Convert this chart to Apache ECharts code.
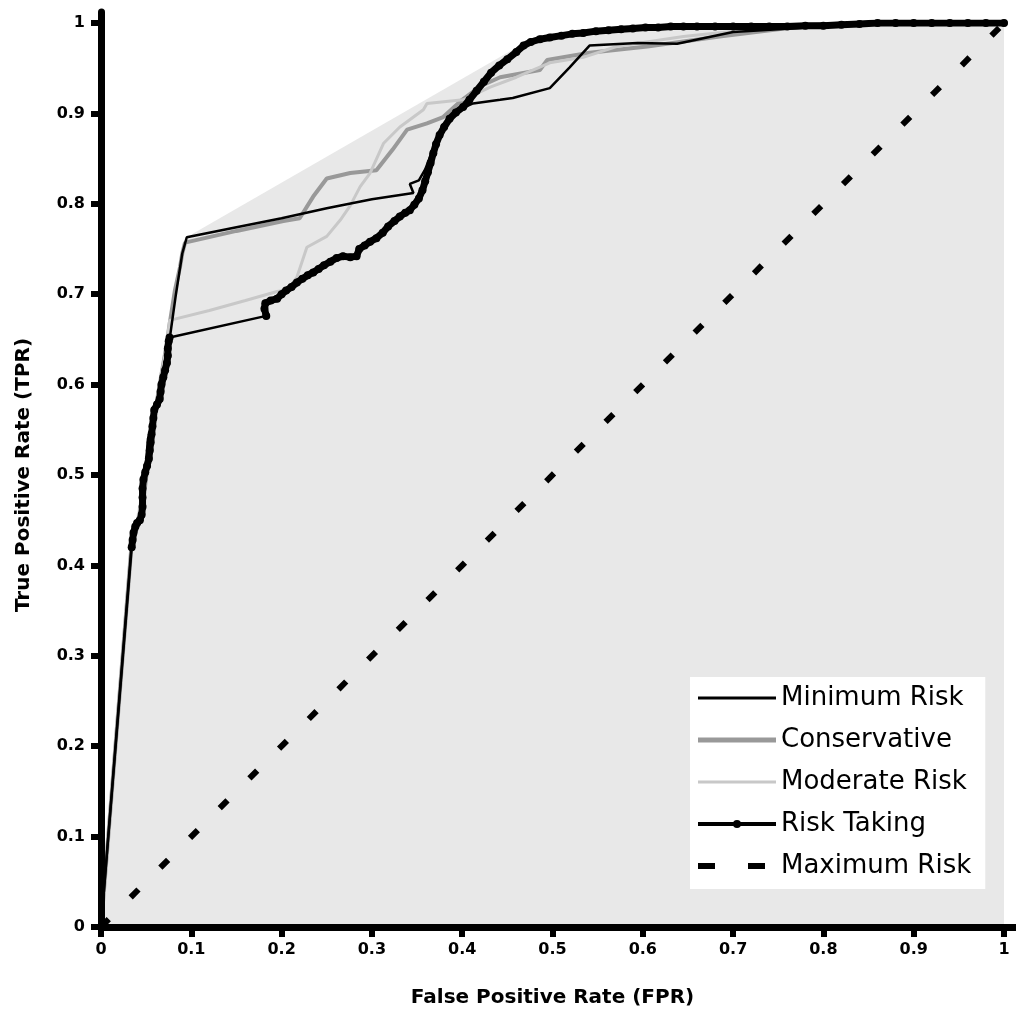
<!DOCTYPE html>
<html>
<head>
<meta charset="utf-8">
<script src="https://cdn.jsdelivr.net/npm/echarts@6.0.0/dist/echarts.min.js"></script>
<style>
html,body{margin:0;padding:0;background:#fff;}
#chart{width:1016px;height:1015px;}
</style>
</head>
<body>
<div id="chart"></div>
<script>
// ---- Data ----
const TICK_LABELS = ['0','0.1','0.2','0.3','0.4','0.5','0.6','0.7','0.8','0.9','1'];
const SERIES_NAMES = ['Minimum Risk','Conservative','Moderate Risk','Risk Taking','Maximum Risk'];

// Upper envelope (convex hull) of the curves — shaded region
const HULL = [[0,0],[0.034,0.425],[0.093,0.762],[0.476,0.982],[0.534,0.990],[0.589,0.994],[0.645,0.996],[0.866,1.0],[1,1]];

const MIN_RISK = [[0,0],[0.034,0.425],[0.045,0.455],[0.052,0.54],[0.062,0.58],[0.070,0.62],[0.076,0.650],
  [0.083,0.700],[0.090,0.745],[0.095,0.763],[0.150,0.774],[0.200,0.784],[0.250,0.795],[0.300,0.805],
  [0.346,0.812],[0.342,0.822],[0.352,0.826],[0.359,0.838],[0.366,0.856],[0.375,0.876],[0.386,0.893],
  [0.401,0.906],[0.412,0.911],[0.442,0.915],[0.456,0.917],[0.497,0.928],[0.519,0.951],[0.541,0.975],
  [0.594,0.978],[0.638,0.977],[0.700,0.990],[0.800,0.996],[0.900,1.0],[1,1]];

const CONSERVATIVE = [[0,0],[0.034,0.425],[0.045,0.455],[0.055,0.54],[0.065,0.60],[0.072,0.64],[0.076,0.667],
  [0.082,0.705],[0.0875,0.730],[0.090,0.745],[0.093,0.757],[0.150,0.770],[0.202,0.781],[0.220,0.784],
  [0.235,0.808],[0.250,0.828],[0.276,0.834],[0.305,0.837],[0.323,0.860],[0.339,0.882],[0.361,0.889],
  [0.379,0.896],[0.400,0.915],[0.420,0.930],[0.442,0.940],[0.486,0.948],[0.494,0.959],[0.541,0.967],
  [0.605,0.974],[0.685,0.985],[0.750,0.993],[0.785,0.998],[0.850,1.0],[1,1]];

const MODERATE = [[0,0],[0.034,0.425],[0.045,0.455],[0.055,0.54],[0.065,0.60],[0.072,0.64],[0.076,0.671],
  [0.120,0.682],[0.160,0.693],[0.195,0.703],[0.207,0.705],[0.217,0.719],[0.228,0.752],[0.250,0.764],
  [0.265,0.782],[0.276,0.798],[0.287,0.819],[0.298,0.834],[0.313,0.867],[0.331,0.885],[0.357,0.904],
  [0.361,0.911],[0.401,0.915],[0.431,0.929],[0.460,0.940],[0.497,0.956],[0.534,0.962],[0.571,0.974],
  [0.645,0.985],[0.682,0.989],[0.750,0.995],[0.850,1.0],[1,1]];

const RISK_TAKING = [[0,0],[0.034,0.420],[0.035,0.428],[0.036,0.436],[0.038,0.443],[0.040,0.447],[0.043,0.450],
  [0.045,0.456],[0.046,0.465],[0.046,0.475],[0.046,0.485],[0.047,0.495],[0.049,0.503],[0.051,0.510],
  [0.053,0.518],[0.054,0.527],[0.055,0.536],[0.056,0.545],[0.057,0.554],[0.058,0.563],[0.059,0.572],
  [0.062,0.578],[0.065,0.584],[0.066,0.592],[0.067,0.600],[0.069,0.608],[0.071,0.616],[0.073,0.624],
  [0.074,0.632],[0.074,0.640],[0.075,0.648],[0.076,0.652],
  [0.183,0.676],[0.181,0.684],[0.182,0.690],[0.188,0.693],[0.195,0.695],[0.200,0.700],[0.205,0.704],
  [0.211,0.708],[0.217,0.713],[0.223,0.717],[0.229,0.721],[0.235,0.724],[0.241,0.728],[0.247,0.732],
  [0.254,0.736],[0.261,0.740],[0.268,0.742],[0.276,0.741],[0.283,0.742],[0.286,0.750],[0.292,0.754],
  [0.298,0.758],[0.305,0.762],[0.312,0.768],[0.318,0.775],[0.325,0.781],[0.331,0.786],[0.337,0.790],
  [0.342,0.793],[0.347,0.799],[0.352,0.806],[0.356,0.815],[0.359,0.825],[0.362,0.835],[0.365,0.845],
  [0.368,0.856],[0.371,0.866],[0.375,0.876],[0.380,0.885],[0.386,0.894],[0.393,0.901],[0.401,0.907],
  [0.408,0.915],[0.416,0.925],[0.424,0.935],[0.432,0.945],[0.441,0.953],[0.450,0.960],[0.460,0.968],
  [0.468,0.975],[0.476,0.979],[0.486,0.982],[0.497,0.984],[0.510,0.986],[0.522,0.988],[0.534,0.989],
  [0.548,0.991],[0.562,0.992],[0.576,0.993],[0.589,0.994],[0.603,0.995],[0.617,0.995],[0.631,0.996],
  [0.645,0.996],[0.660,0.996],[0.680,0.996],[0.700,0.996],[0.720,0.996],[0.740,0.996],[0.760,0.996],
  [0.780,0.997],[0.800,0.997],[0.820,0.998],[0.840,0.999],[0.860,1.0],[0.880,1.0],[0.900,1.0],
  [0.920,1.0],[0.940,1.0],[0.960,1.0],[0.980,1.0],[1,1]];

const MAX_RISK = [[0,0],[1,1]];

// ---- Split Risk Taking into its dense (marker-covered) runs and sparse thin connectors ----
const GAP = 0.05;
const rtDense = [], rtSparse = [];
for (let i = 0; i < RISK_TAKING.length; i++) {
  const p = RISK_TAKING[i];
  if (i > 0) {
    const q = RISK_TAKING[i - 1];
    if (Math.hypot(p[0] - q[0], p[1] - q[1]) > GAP) {
      rtDense.push(null);
      rtSparse.push(q, p, null);
    }
  }
  rtDense.push(p);
}

// ---- Chart ----
const SANS = "'DejaVu Sans', 'Liberation Sans', Arial, sans-serif";
const chart = echarts.init(document.getElementById('chart'), null, {renderer: 'canvas'});
const tickFmt = v => TICK_LABELS[Math.round(v * 10)];
const noDot = {opacity: 0};

const option = {
  animation: false,
  backgroundColor: '#ffffff',
  grid: [
    {left: 101, top: 23, width: 903, height: 904, outerBoundsMode: 'none', containLabel: false},
    {left: 101, top: 12, width: 915, height: 915, outerBoundsMode: 'none', containLabel: false}
  ],
  xAxis: [
    {
      gridIndex: 0, type: 'value', min: 0, max: 1, interval: 0.1,
      axisLine: {show: false},
      axisTick: {show: true, length: 10, lineStyle: {color: '#000', width: 6}},
      axisLabel: {margin: 15, color: '#000', fontFamily: SANS, fontWeight: 'bold', fontSize: 16, formatter: tickFmt},
      splitLine: {show: false},
      name: 'False Positive Rate (FPR)', nameLocation: 'middle', nameGap: 61,
      nameTextStyle: {color: '#000', fontFamily: SANS, fontWeight: 'bold', fontSize: 20}
    },
    {
      gridIndex: 1, type: 'value', min: 0, max: 1, z: 10,
      axisLine: {show: true, lineStyle: {color: '#000', width: 7}},
      axisTick: {show: false}, axisLabel: {show: false}, splitLine: {show: false}
    }
  ],
  yAxis: [
    {
      gridIndex: 0, type: 'value', min: 0, max: 1, interval: 0.1,
      axisLine: {show: false},
      axisTick: {show: true, length: 10, lineStyle: {color: '#000', width: 6}},
      axisLabel: {margin: 16, color: '#000', fontFamily: SANS, fontWeight: 'bold', fontSize: 16, formatter: tickFmt},
      splitLine: {show: false},
      name: 'True Positive Rate (TPR)', nameLocation: 'middle', nameGap: 67,
      nameTextStyle: {color: '#000', fontFamily: SANS, fontWeight: 'bold', fontSize: 20}
    },
    {
      gridIndex: 1, type: 'value', min: 0, max: 1, z: 10,
      axisLine: {show: true, lineStyle: {color: '#000', width: 7}},
      axisTick: {show: false}, axisLabel: {show: false}, splitLine: {show: false}
    }
  ],
  legend: {
    orient: 'vertical',
    left: 690, top: 677,
    backgroundColor: '#ffffff',
    padding: [8, 14, 10, 5],
    itemWidth: 78, itemHeight: 10, itemGap: 16,
    data: [
      {name: SERIES_NAMES[0], itemStyle: noDot, lineStyle: {color: '#000', width: 3}},
      {name: SERIES_NAMES[1], itemStyle: noDot, lineStyle: {color: '#999999', width: 5}},
      {name: SERIES_NAMES[2], itemStyle: noDot, lineStyle: {color: '#c8c8c8', width: 3}},
      {name: SERIES_NAMES[3], itemStyle: {color: '#000'}, lineStyle: {color: '#000', width: 4}},
      {name: SERIES_NAMES[4], itemStyle: noDot, lineStyle: {color: '#000', width: 6, type: [17, 33]}}
    ],
    textStyle: {color: '#000', fontFamily: SANS, fontSize: 26, lineHeight: 26}
  },
  series: [
    {
      name: 'hull', type: 'line', data: HULL,
      symbol: 'none', silent: true, z: 1,
      lineStyle: {width: 0, color: '#e8e8e8'},
      areaStyle: {color: '#e8e8e8', opacity: 1}
    },
    {
      name: 'Conservative', type: 'line', data: CONSERVATIVE, symbol: 'none', z: 2,
      lineStyle: {color: '#999999', width: 4}, itemStyle: {color: '#999999'}
    },
    {
      name: 'Moderate Risk', type: 'line', data: MODERATE, symbol: 'none', z: 2,
      lineStyle: {color: '#c8c8c8', width: 3}, itemStyle: {color: '#c8c8c8'}
    },
    {
      name: 'Minimum Risk', type: 'line', data: MIN_RISK, symbol: 'none', z: 3,
      lineStyle: {color: '#000000', width: 2.5}, itemStyle: {color: '#000000'}
    },
    {
      name: 'Risk Taking', type: 'line', data: rtSparse, symbol: 'none', z: 4, connectNulls: false,
      lineStyle: {color: '#000000', width: 2.5}, itemStyle: {color: '#000000'}
    },
    {
      name: 'Risk Taking', type: 'line', data: rtDense, symbol: 'circle', symbolSize: 8, z: 4, connectNulls: false,
      lineStyle: {color: '#000000', width: 7, join: 'round', cap: 'round'}, itemStyle: {color: '#000000'}
    },
    {
      name: 'Maximum Risk', type: 'line', data: MAX_RISK, symbol: 'none', z: 3,
      lineStyle: {color: '#000000', width: 6, type: [11, 31]}, itemStyle: {color: '#000000'}
    }
  ]
};
chart.setOption(option);
</script>
</body>
</html>
